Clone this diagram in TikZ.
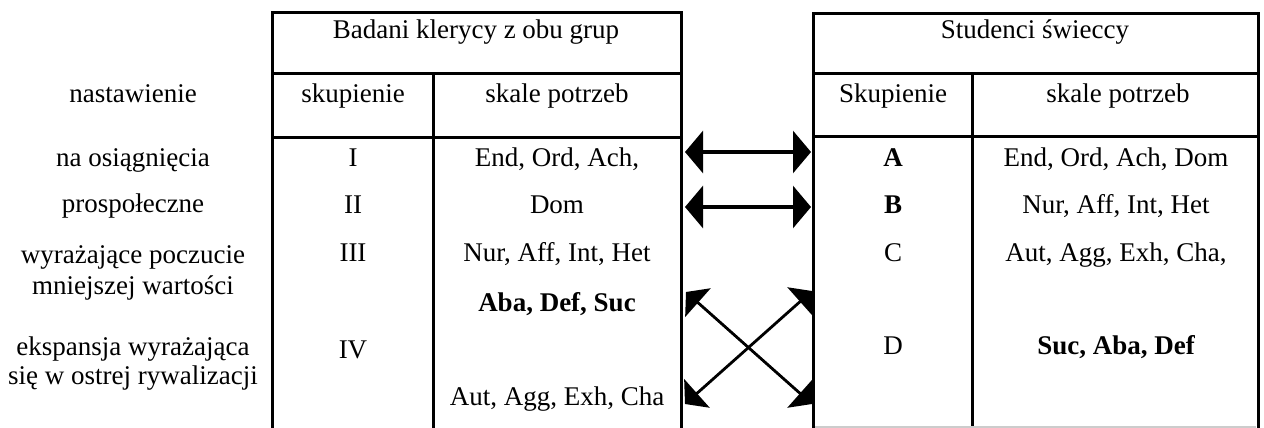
\documentclass[tikz,border=0pt]{standalone}
\usepackage{fontspec}
\setmainfont{Liberation Serif}
\usetikzlibrary{arrows.meta}
\begin{document}
\begin{tikzpicture}[x=0.5pt,y=-0.5pt,
  tbl/.style={line width=1.5pt, line cap=rect},
  txt/.style={inner sep=0pt, anchor=base, font=\fontsize{13.5}{15}\selectfont},
  btxt/.style={txt, font=\fontsize{13.5}{15}\selectfont\bfseries},
  dbl/.style={line width=1.6pt, {Triangle[length=9pt,width=21pt]}-{Triangle[length=9pt,width=21pt]}},
  xarr/.style={line width=1.4pt, {Triangle[length=8pt,width=19pt]}-{Triangle[length=8pt,width=19pt]}}]
\useasboundingbox (0,0) rectangle (1264,428);
% left table
\draw[tbl] (272,428) -- (272,12) -- (681,12) -- (681,428);
\draw[tbl] (272,73) -- (681,73);
\draw[tbl] (272,137) -- (681,137);
\draw[tbl] (433,73) -- (433,428);
% right table
\draw[tbl] (813,428) -- (813,13) -- (1258,13) -- (1258,428);
\draw[tbl] (813,73) -- (1258,73);
\draw[tbl] (813,136) -- (1258,136);
\draw[tbl] (972,73) -- (972,428);
\draw[gray!40, line width=0.6pt] (815,427) -- (1256,427);
% headers
\node[txt] (h1) at (476,39) {Badani klerycy z obu grup};
\node[txt] (h2) at (1035,39) {Studenci świeccy};
\node[txt] (n0) at (133,102) {nastawienie};
\node[txt] (s1) at (353,102) {skupienie};
\node[txt] (p1) at (557,102) {skale potrzeb};
\node[txt] (s2) at (893,102) {Skupienie};
\node[txt] (p2) at (1118,102) {skale potrzeb};
% row 1
\node[txt] (n1) at (133,166) {na osiągnięcia};
\node[txt] (c1) at (353,166) {I};
\node[txt] (l1) at (557,166) {End, Ord, Ach,};
\node[btxt] (r1) at (893,166) {A};
\node[txt] (q1) at (1116,166) {End, Ord, Ach, Dom};
% row 2
\node[txt] (n2) at (133,212) {prospołeczne};
\node[txt] (c2) at (353,213) {II};
\node[txt] (l2) at (557,213) {Dom};
\node[btxt] (r2) at (893,213) {B};
\node[txt] (q2) at (1116,213) {Nur, Aff, Int, Het};
% row 3
\node[txt] (n3a) at (133,263) {wyrażające poczucie};
\node[txt] (n3b) at (133,294) {mniejszej wartości};
\node[txt] (c3) at (353,261) {III};
\node[txt] (l3) at (557,261) {Nur, Aff, Int, Het};
\node[txt] (r3) at (893,261) {C};
\node[txt] (q3) at (1116,261) {Aut, Agg, Exh, Cha,};
\node[btxt] (l3b) at (557,311) {Aba, Def, Suc};
% row 4
\node[txt] (n4a) at (133,355) {ekspansja wyrażająca};
\node[txt] (n4b) at (133,384) {się w ostrej rywalizacji};
\node[txt] (c4) at (353,358) {IV};
\node[txt] (r4) at (893,354) {D};
\node[btxt] (q4) at (1116,354) {Suc, Aba, Def};
\node[txt] (l4) at (557,405) {Aut, Agg, Exh, Cha};
% arrows
\coordinate (a1L) at (685,152);
\coordinate (a1R) at (811,152);
\coordinate (a2L) at (685,207);
\coordinate (a2R) at (811,207);
\coordinate (xTL) at (686,292);
\coordinate (xTR) at (812,291);
\coordinate (xBL) at (685,404);
\coordinate (xBR) at (812,404);
\draw[dbl] (a1L) -- (a1R);
\draw[dbl] (a2L) -- (a2R);
\draw[xarr] (xTL) -- (xBR);
\draw[xarr] (xBL) -- (xTR);
\end{tikzpicture}
\end{document}
